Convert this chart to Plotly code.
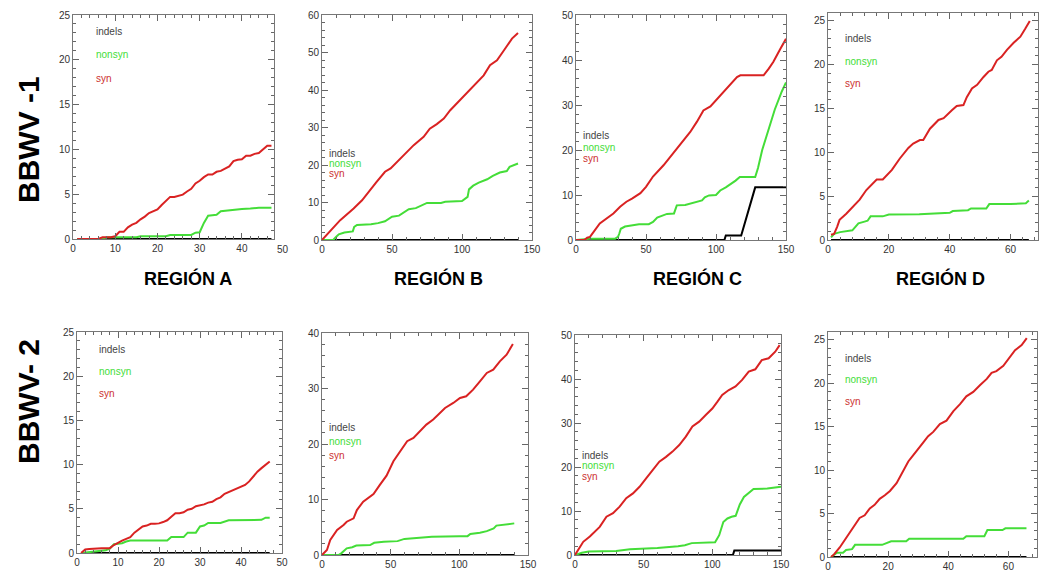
import plotly.graph_objects as go

W, H = 1039, 572

# ---------------- data: BBWV-1 ----------------
a1_syn_x = [1, 6, 7, 9, 10, 11, 12, 13, 14, 15, 16, 17, 18, 19, 20, 21, 22, 23, 24, 25, 26, 27, 28, 29, 30,
            31, 32, 33, 34, 35, 36, 37, 38, 39, 40, 41, 42, 43, 44, 45, 46, 47]
a1_syn_y = [0, 0, 0.2, 0.2, 0.3, 0.8, 0.8, 1.3, 1.6, 1.8, 2.2, 2.5, 2.9, 3.1, 3.3, 3.8, 4.3, 4.7, 4.7, 4.8, 4.95,
            5.3, 5.6, 6.2, 6.5, 6.9, 7.2, 7.2, 7.5, 7.6, 7.9, 8.1, 8.7, 8.85, 8.9, 9.3, 9.3, 9.5, 9.6, 10.0, 10.4, 10.4]
a1_non_x = [1, 7, 8, 15, 16, 22, 23, 28, 29, 30, 31, 32, 33, 34, 35, 36, 37, 38, 40, 42, 44, 47]
a1_non_y = [0, 0, 0.2, 0.2, 0.3, 0.3, 0.45, 0.45, 0.7, 0.75, 1.8, 2.6, 2.65, 2.7, 3.1, 3.15, 3.2, 3.3, 3.35, 3.4, 3.5, 3.5]
a1_ind_x = [1, 47]
a1_ind_y = [0, 0]

b1_syn_x = [0, 13, 22.6, 28.6, 39, 45, 49, 56, 65.5, 72.6, 77, 82, 87, 91.6, 99, 108, 115.5, 120, 125, 130, 135.7, 140]
b1_syn_y = [0, 5.3, 8.4, 10.6, 15.5, 18.2, 19.1, 21.7, 25.3, 27.5, 29.7, 30.9, 32.4, 34.6, 37.4, 40.8, 43.9, 46.6,
            47.9, 50.6, 53.7, 55.2]
b1_non_x = [0, 8, 10, 12, 16, 20, 22, 23, 25, 35, 40, 45, 50, 55, 58, 62, 67, 72, 75, 85, 88, 100, 102, 104, 105,
            108, 112, 118, 122, 127, 132, 134, 140]
b1_non_y = [0, 0, 0.8, 1.5, 2.0, 2.1, 2.3, 3.5, 4.0, 4.2, 4.5, 5.0, 6.2, 6.5, 7.3, 8.2, 8.5, 9.5, 9.9, 9.9, 10.2,
            10.4, 11.0, 11.5, 13.5, 14.5, 15.3, 16.2, 17.1, 18.0, 18.4, 19.5, 20.4]
b1_ind_x = [0, 140]
b1_ind_y = [0, 0]

c1_syn_x = [0, 6, 8, 10, 17, 22, 26.7, 31.5, 36, 40, 46, 50, 55, 62.5, 68.5, 74.5, 81.6, 86.4, 91, 96, 102, 108,
            115, 117.4, 134, 137.7, 141, 146, 150]
c1_syn_y = [0, 0, 0.5, 0.7, 3.7, 4.8, 5.9, 7.4, 8.5, 9.2, 10.4, 11.8, 14.1, 16.6, 18.9, 21.4, 24, 26.3, 28.8, 29.7,
            31.8, 33.7, 36.2, 36.6, 36.6, 38.1, 39.6, 42.5, 44.7]
c1_non_x = [0, 10, 28, 30, 31, 32, 35, 40, 45, 52, 55, 58, 62, 65, 70, 72, 78, 83, 87, 90, 92, 95, 100, 103, 107,
            110, 114, 117, 128, 130, 133, 138, 142, 147, 150]
c1_non_y = [0, 0.3, 0.3, 0.7, 1.5, 2.5, 3.0, 3.2, 3.5, 3.5, 4.0, 5.0, 5.5, 5.8, 5.9, 7.7, 7.8, 8.2, 8.6, 8.8, 9.5,
            9.9, 10.0, 11.0, 11.7, 12.3, 13.2, 14.0, 14.0, 16.0, 20.0, 25.0, 29.0, 33.0, 35.0]
c1_ind_x = [0, 106, 107, 118, 128, 150]
c1_ind_y = [0, 0, 1, 1, 11.7, 11.7]

d1_syn_x = [1, 2, 3, 3.8, 6, 8.2, 10.4, 12.6, 14.3, 16, 18, 21, 23.6, 26.4, 28, 30.2, 31.3, 33.5, 36.3, 38, 40.7,
            42.3, 44.5, 45.6, 47.3, 49, 51.1, 52.7, 53.8, 55.5, 57, 58.8, 61, 63.2, 64.8, 66.3]
d1_syn_y = [0.6, 0.7, 1.5, 2.3, 3.0, 3.8, 4.6, 5.7, 6.3, 6.9, 6.9, 8.0, 9.3, 10.5, 11.0, 11.4, 11.4, 12.7, 13.7,
            13.9, 14.8, 15.3, 15.4, 16.3, 17.3, 17.7, 18.6, 19.2, 19.4, 20.5, 20.9, 21.7, 22.5, 23.2, 24.1, 25.0]
d1_non_x = [1, 2, 4, 6, 8, 9, 10, 12, 13, 14, 18, 20, 30, 40, 41, 46, 47, 52, 53, 60, 65, 66]
d1_non_y = [0.3, 0.7, 0.9, 1.0, 1.1, 1.5, 1.9, 2.1, 2.2, 2.7, 2.7, 2.9, 2.95, 3.1, 3.3, 3.4, 3.6, 3.6, 4.1, 4.1, 4.2, 4.5]
d1_ind_x = [1, 66]
d1_ind_y = [0, 0]

# ---------------- data: BBWV-2 ----------------
a2_syn_x = [1, 2, 3, 4, 5, 6, 7, 8, 9, 10, 11, 12, 13, 14, 15, 16, 17, 18, 19, 20, 21, 22, 23, 24, 25, 26, 27, 28,
            29, 30, 31, 32, 33, 34, 35, 36, 37, 38, 39, 40, 41, 42, 43, 44, 45, 46, 47]
a2_syn_y = [0, 0.4, 0.45, 0.5, 0.55, 0.55, 0.55, 0.55, 0.9, 1.2, 1.4, 1.6, 1.8, 2.3, 2.7, 3.0, 3.1, 3.3, 3.3, 3.35,
            3.5, 3.7, 4.1, 4.5, 4.5, 4.6, 4.9, 5.0, 5.3, 5.4, 5.5, 5.7, 5.8, 6.1, 6.3, 6.7, 6.9, 7.1, 7.3, 7.5, 7.7,
            8.1, 8.7, 9.2, 9.6, 10.0, 10.35]
a2_non_x = [1, 3, 4, 7, 8, 9, 11, 12, 13, 22, 23, 26, 27, 29, 30, 31, 32, 35, 37, 45, 46, 47]
a2_non_y = [0, 0.1, 0.2, 0.3, 0.5, 1.0, 1.1, 1.3, 1.4, 1.4, 1.8, 1.8, 2.3, 2.3, 3.0, 3.1, 3.4, 3.4, 3.7, 3.75, 4.0, 4.0]
a2_ind_x = [1, 47]
a2_ind_y = [0, 0]

b2_syn_x = [0, 3.6, 6, 11, 15.7, 18, 23, 25.4, 30, 35, 37.5, 42, 47, 52, 57, 62, 66.6, 71.4, 76, 81, 85, 89.6,
            95.6, 100.5, 105, 110, 115, 120, 124.7, 129.5, 134.4, 139]
b2_syn_y = [0, 0.9, 2.7, 4.5, 5.4, 6.0, 6.6, 8.1, 9.6, 10.5, 11.0, 12.6, 14.3, 16.9, 18.7, 20.5, 21.1, 22.3, 23.5,
            24.4, 25.3, 26.5, 27.4, 28.3, 28.6, 29.8, 31.3, 32.8, 33.4, 34.9, 36.1, 38.0]
b2_non_x = [0, 12, 14, 16, 18, 22, 25, 35, 38, 45, 55, 60, 70, 80, 100, 106, 108, 115, 120, 125, 127, 132, 140]
b2_non_y = [0, 0, 0.3, 0.8, 1.2, 1.4, 1.7, 1.8, 2.2, 2.4, 2.5, 2.9, 3.1, 3.3, 3.4, 3.4, 3.8, 4.0, 4.3, 4.8, 5.3,
            5.5, 5.7]
b2_ind_x = [0, 140]
b2_ind_y = [0, 0]

c2_syn_x = [0, 6, 10.8, 18, 22.9, 27.7, 32.5, 37.3, 42.2, 47, 51.8, 56.6, 61.4, 66.3, 71, 75.9, 80.7, 85.5, 90.4,
            95.2, 100, 103.6, 107.2, 112, 116.9, 121.7, 126.5, 131.3, 136, 141, 145.8, 149]
c2_syn_y = [0, 3.0, 4.2, 6.4, 8.7, 9.5, 11.0, 12.9, 14.0, 15.5, 17.4, 19.3, 21.2, 22.3, 23.5, 25.0, 26.9, 29.2,
            30.3, 31.8, 33.3, 34.8, 36.4, 37.5, 38.3, 39.8, 41.7, 42.2, 44.3, 44.7, 46.2, 47.7]
c2_non_x = [0, 5, 10, 30, 40, 60, 75, 80, 85, 100, 102, 105, 108, 111, 114, 117, 120, 123, 127, 130, 140, 150]
c2_non_y = [0, 0.5, 0.8, 0.9, 1.3, 1.6, 2.0, 2.2, 2.7, 2.8, 2.9, 4.5, 7.5, 8.3, 8.7, 8.9, 11.5, 13.2, 14.2, 15.0,
            15.1, 15.5]
c2_ind_x = [0, 115, 116, 150]
c2_ind_y = [0, 0, 1, 1]

d2_syn_x = [1, 2, 3.9, 6.1, 8.3, 10.5, 12.2, 13.9, 15.5, 17.2, 18.9, 20.6, 22.8, 25, 26.7, 28.3, 30, 31.7, 33.3,
            35, 37.2, 39.4, 41.7, 43.9, 46, 48.3, 50.6, 52.8, 54.4, 56, 58.3, 60.6, 62.2, 64.4, 66.1]
d2_syn_y = [0, 0.3, 1.1, 2.2, 3.3, 4.5, 4.8, 5.6, 6.0, 6.7, 7.1, 7.6, 8.5, 9.9, 11.0, 11.7, 12.5, 13.2, 13.9, 14.4,
            15.3, 15.7, 16.8, 17.6, 18.5, 19.0, 19.8, 20.5, 21.2, 21.4, 22.0, 23.0, 23.8, 24.4, 25.2]
d2_non_x = [1, 2, 3, 5, 6, 8, 9, 18, 20, 21, 26, 27, 45, 46, 52, 53, 58, 59, 66]
d2_non_y = [0, 0.2, 0.5, 0.5, 0.8, 0.9, 1.4, 1.4, 1.7, 1.8, 1.8, 2.1, 2.1, 2.4, 2.4, 3.1, 3.1, 3.3, 3.3]
d2_ind_x = [1, 66]
d2_ind_y = [0, 0]

row_labels = ["BBWV -1", "BBWV- 2"]
region_labels = ["REGIÓN A", "REGIÓN B", "REGIÓN C", "REGIÓN D"]
series_names = ["indels", "nonsyn", "syn"]

RED = "#d92222"
GREEN = "#44dd38"
BLACK = "#000000"
FONT = "Liberation Sans, Arial, sans-serif"

data = [
    (a1_ind_x, a1_ind_y, a1_non_x, a1_non_y, a1_syn_x, a1_syn_y),
    (b1_ind_x, b1_ind_y, b1_non_x, b1_non_y, b1_syn_x, b1_syn_y),
    (c1_ind_x, c1_ind_y, c1_non_x, c1_non_y, c1_syn_x, c1_syn_y),
    (d1_ind_x, d1_ind_y, d1_non_x, d1_non_y, d1_syn_x, d1_syn_y),
    (a2_ind_x, a2_ind_y, a2_non_x, a2_non_y, a2_syn_x, a2_syn_y),
    (b2_ind_x, b2_ind_y, b2_non_x, b2_non_y, b2_syn_x, b2_syn_y),
    (c2_ind_x, c2_ind_y, c2_non_x, c2_non_y, c2_syn_x, c2_syn_y),
    (d2_ind_x, d2_ind_y, d2_non_x, d2_non_y, d2_syn_x, d2_syn_y),
]

# layout: pixel boxes (left, right, top, bottom), axis ranges, ticks, legend position
panels = [
    dict(box=(73, 274, 15, 239), xr=[0, 47.6], yr=[0, 25], xd=10, xm=2, yd=5, ym=1, leg=(94, 32, 23)),
    dict(box=(322, 532, 15, 240), xr=[0, 150], yr=[0, 60], xd=50, xm=10, yd=10, ym=2, leg=(327, 154, 10)),
    dict(box=(576, 786, 15, 240), xr=[0, 150], yr=[0, 50], xd=50, xm=10, yd=10, ym=2, leg=(581, 136, 11.5)),
    dict(box=(828, 1038, 13, 240), xr=[0, 69], yr=[0, 25.9], xd=20, xm=4, yd=5, ym=1, leg=(843, 39, 22)),
    dict(box=(77, 282, 332, 553), xr=[0, 50], yr=[0, 25], xd=10, xm=2, yd=5, ym=1, leg=(97, 349, 22)),
    dict(box=(322, 528, 333, 555), xr=[0, 150], yr=[0, 40], xd=50, xm=10, yd=10, ym=2, leg=(327, 427, 14)),
    dict(box=(575, 781, 335, 555), xr=[0, 150], yr=[0, 50], xd=50, xm=10, yd=10, ym=2, leg=(580, 455, 10.5)),
    dict(box=(828, 1037, 332, 557), xr=[0, 69.5], yr=[0, 25.9], xd=20, xm=4, yd=5, ym=1, leg=(843, 358, 21.5)),
]

fig = go.Figure()
layout = dict(
    width=W, height=H, margin=dict(l=0, r=0, t=0, b=0, autoexpand=False),
    paper_bgcolor="white", plot_bgcolor="white", showlegend=False,
    font=dict(family=FONT, color="#333333"),
)
annotations = []

for i, (p, d) in enumerate(zip(panels, data)):
    n = i + 1
    xa = "x" if n == 1 else f"x{n}"
    ya = "y" if n == 1 else f"y{n}"
    l, r, t, b = p["box"]
    ix, iy, nx, ny, sx, sy = d
    for xs, ys, col in [(ix, iy, BLACK), (nx, ny, GREEN), (sx, sy, RED)]:
        fig.add_trace(go.Scatter(x=xs, y=ys, mode="lines", xaxis=xa, yaxis=ya,
                                 line=dict(color=col, width=2), hoverinfo="skip"))
    axcommon = dict(showgrid=False, zeroline=False, showline=True, linecolor="#777777", linewidth=1,
                    mirror="ticks", ticks="inside", ticklen=6, tickcolor="#666666", tickwidth=1,
                    automargin=False,
                    tickfont=dict(size=10, color="#333333", family=FONT))
    layout["xaxis" if n == 1 else f"xaxis{n}"] = dict(
        domain=[l / W, r / W], range=p["xr"], anchor=ya, dtick=p["xd"], tick0=0,
        minor=dict(dtick=p["xm"], tick0=0, ticks="inside", ticklen=3, tickcolor="#666666"), **axcommon)
    layout["yaxis" if n == 1 else f"yaxis{n}"] = dict(
        domain=[1 - b / H, 1 - t / H], range=p["yr"], anchor=xa, dtick=p["yd"], tick0=0,
        minor=dict(dtick=p["ym"], tick0=0, ticks="inside", ticklen=3, tickcolor="#666666"), **axcommon)
    lx, ly, step = p["leg"]
    for k, (name, col) in enumerate(zip(series_names, ["#444444", GREEN, "#cc3030"])):
        annotations.append(dict(x=lx / W, y=1 - (ly + k * step) / H, xref="paper", yref="paper",
                                text=name, showarrow=False, xanchor="left", yanchor="middle",
                                font=dict(size=10, color=col, family=FONT)))

# extra overflowing tick label "50" in first panel (beyond the frame edge)
annotations.append(dict(x=283 / W, y=1 - 249 / H, xref="paper", yref="paper", text="50",
                        showarrow=False, xanchor="center", yanchor="middle",
                        font=dict(size=10, color="#333333", family=FONT)))

# region labels
for txt, cx in zip(region_labels, [188, 438, 697, 940]):
    annotations.append(dict(x=cx / W, y=1 - 279 / H, xref="paper", yref="paper", text=f"<b>{txt}</b>",
                            showarrow=False, xanchor="center", yanchor="middle",
                            font=dict(size=18, color="#000000", family=FONT)))

# row labels
for txt, cy in zip(row_labels, [140, 402]):
    annotations.append(dict(x=28 / W, y=1 - cy / H, xref="paper", yref="paper", text=f"<b>{txt}</b>",
                            showarrow=False, textangle=-90, xanchor="center", yanchor="middle",
                            font=dict(size=30, color="#000000", family=FONT)))

layout["annotations"] = annotations
fig.update_layout(**layout)
fig.write_html("out.html", config={"displayModeBar": False},
               post_script="document.body.style.margin='0';document.body.style.overflow='hidden';")
